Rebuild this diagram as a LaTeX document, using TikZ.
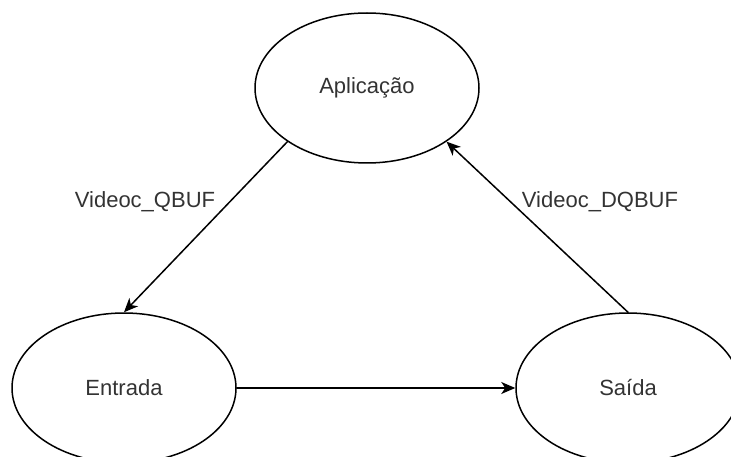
\documentclass[tikz,border=0pt]{standalone}
\usepackage{fontspec}
\setmainfont{Liberation Sans}
\usetikzlibrary{shapes.geometric,arrows.meta}
\begin{document}
\begin{tikzpicture}[x=1pt, y=-1pt, font=\fontsize{22}{26}\selectfont, line join=round, line cap=round,
		>={Stealth[length=14pt,width=12pt,inset=4pt]},
		estado/.style={draw, ellipse, line width=1.5pt, minimum width=224pt, minimum height=150pt, inner sep=0pt, text=black!80},
		rotulo/.style={text=black!80}]
			\useasboundingbox (0,0) rectangle (731,457);
			\node[estado] (apl) at (367,88) {Aplicação};
			\node[estado] (ent) at (124,388) {Entrada};
			\node[estado] (sai) at (628,388) {Saída};
			\draw[->, line width=1.5pt] (apl.214) -- (ent.north);
			\draw[->, line width=1.5pt] (sai.north) -- (apl.326);
			\draw[->, line width=1.5pt] (ent.east) -- (sai.west);
			\node[rotulo] (qbuf) at (145,202) {Videoc\_QBUF};
			\node[rotulo] (dqbuf) at (600,202) {Videoc\_DQBUF};
		\end{tikzpicture}
\end{document}
